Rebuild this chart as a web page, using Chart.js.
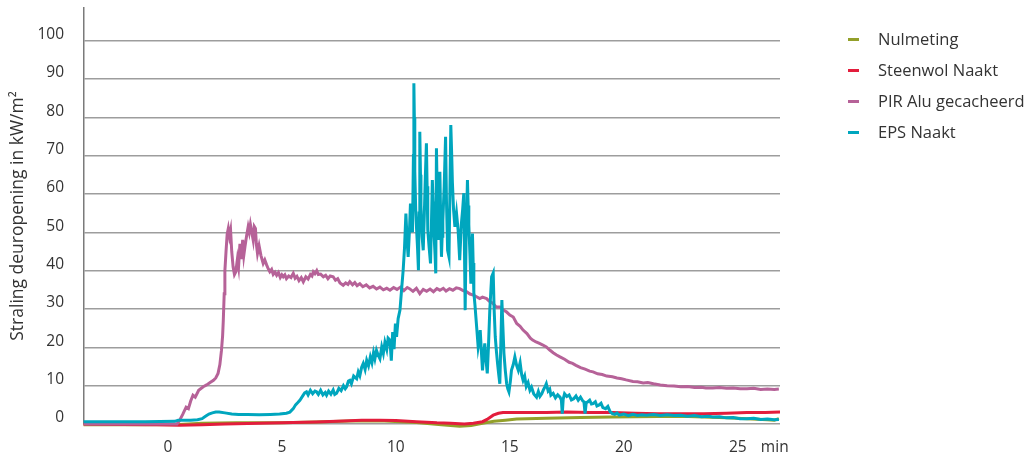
<!DOCTYPE html>
<html>
<head>
<meta charset="utf-8">
<script src="https://cdn.jsdelivr.net/npm/chart.js@4.4.1/dist/chart.umd.min.js"></script>
<style>
  html, body { margin: 0; padding: 0; background: #fff; }
  #wrap { position: relative; width: 1035px; height: 457px; }
  #legend { position: absolute; left: 848px; top: 28px; font: 16.5px "Open Sans", sans-serif; color: #333; }
  #legend .item { position: relative; height: 31px; line-height: 22px; padding-left: 30px; white-space: nowrap; }
  #legend .swatch { position: absolute; left: 0; top: 10px; width: 11px; height: 3px; }
</style>
</head>
<body>
<div id="wrap">
  <canvas id="chart" width="1035" height="457"></canvas>
  <div id="legend"></div>
</div>
<script>
// time in minutes, radiation in kW/m2 — [t, value]
const nulmeting = [
  [-3.7,-0.2],[-1,-0.2],[0.5,-0.1],[1.5,0.2],[3,0.3],[5,0.3],[6.5,0.5],[8,0.8],[9.5,0.8],
  [10.9,0.4],[12,-0.2],[12.8,-0.6],[13.3,-0.4],[13.8,0.2],[14.3,0.7],[14.8,1.0],[15.3,1.3],
  [16.6,1.5],[18.1,1.7],[19.5,1.8],[20.5,1.9],[22.5,2.0],[23.5,1.8],[24.5,1.6],[25.4,1.4],
  [26.3,1.1],[26.6,1.0],[26.8,1.4]
];

const steenwolNaakt = [
  [-3.7,0.0],[-2,-0.1],[-0.5,-0.2],[0.5,-0.3],[1.5,-0.2],[2.5,0],[3.5,0.1],[5,0.3],[6.5,0.5],
  [7.7,0.8],[8.5,1.0],[9.3,1.0],[10,0.9],[10.9,0.6],[11.8,0.3],[12.4,0.2],[13.0,0.0],[13.4,0.2],
  [13.8,0.6],[14.0,1.2],[14.27,2.3],[14.5,2.8],[14.7,3.0],[15.5,3.0],[16.6,3.0],[17.5,3.1],
  [18.5,3.0],[19.5,3.0],[20.5,2.8],[21.5,2.7],[22.5,2.7],[23.5,2.7],[24.5,2.8],[25.4,3.0],
  [26.2,3.0],[26.85,3.1]
];

const pirAlu = [
  [-3.7,0],[0.4,0],[0.5,0.8],[0.65,2.5],[0.8,4.4],[0.9,4.0],[1.0,6.0],[1.1,7.5],[1.2,7.0],
  [1.35,8.8],[1.55,9.7],[1.7,10.2],[1.85,10.8],[2.0,11.4],[2.1,12.0],[2.2,13.2],[2.28,15.5],
  [2.35,19.2],[2.4,23],[2.43,27],[2.47,34],[2.5,40],[2.55,45],[2.6,49.5],[2.65,51],[2.7,49],
  [2.75,50.5],[2.8,45],[2.86,41],[2.92,39],[2.98,39.7],[3.05,43],[3.1,41],[3.16,47],[3.22,43],
  [3.28,48],[3.33,44],[3.38,46.2],[3.45,49],[3.52,51.4],[3.57,50],[3.62,52],[3.68,50],[3.74,48],
  [3.79,51.5],[3.84,51],[3.88,47],[3.93,44.5],[4.0,46.5],[4.08,44],[4.18,41.9],[4.25,42.8],
  [4.33,41.5],[4.4,40.5],[4.47,39.7],[4.55,40.3],[4.62,39],[4.7,39.6],[4.77,38.8],[4.85,39.5],
  [4.93,38.2],[5.0,38.9],[5.06,38.4],[5.13,38.9],[5.2,37.9],[5.3,38.6],[5.4,38.2],[5.5,39.3],
  [5.58,38],[5.66,38.5],[5.75,37.4],[5.85,38.2],[5.94,37.1],[6.05,38.4],[6.15,37.8],[6.25,39],
  [6.32,38.6],[6.38,39.7],[6.45,39.2],[6.53,40],[6.6,39],[6.7,39.1],[6.82,38.4],[6.92,38.8],
  [7.02,37.9],[7.12,38.6],[7.25,38.4],[7.35,37.5],[7.45,37.9],[7.55,36.8],[7.69,36.2],[7.8,36.8],
  [7.9,36.4],[7.98,37.1],[8.1,36.3],[8.2,36.9],[8.3,36.1],[8.42,36.6],[8.55,35.8],[8.7,36.3],
  [8.85,35.5],[9.0,35.9],[9.15,35.2],[9.3,35.7],[9.45,35.0],[9.6,35.4],[9.74,34.9],[9.9,35.6],
  [10.05,35.1],[10.2,35.7],[10.35,34.8],[10.5,35.6],[10.6,35.3],[10.75,34.6],[10.9,35.4],
  [11.05,34.0],[11.2,35.1],[11.35,34.6],[11.5,35.2],[11.65,34.5],[11.8,35.3],[11.93,34.9],
  [12.08,35.4],[12.2,34.7],[12.35,35.3],[12.5,34.9],[12.65,35.5],[12.8,35.3],[12.95,34.8],
  [13.1,34.5],[13.25,33.9],[13.4,33.6],[13.54,33.2],[13.68,32.7],[13.8,33.1],[13.98,32.7],
  [14.1,32.0],[14.25,31.5],[14.4,30.5],[14.56,30.5],[14.7,29.8],[14.86,29.2],[15.0,28.4],
  [15.15,27.9],[15.3,26.2],[15.45,25.5],[15.58,24.5],[15.75,23.6],[15.9,22.4],[16.0,21.9],
  [16.15,21.4],[16.3,21.0],[16.45,20.6],[16.6,20.1],[16.75,19.3],[16.9,18.6],[17.05,18.0],
  [17.2,17.5],[17.4,16.9],[17.6,16.1],[17.75,15.8],[17.9,15.3],[18.1,14.7],[18.3,14.3],
  [18.5,13.8],[18.65,13.6],[18.85,13.1],[19.05,12.9],[19.25,12.5],[19.5,12.3],[19.7,12.0],
  [19.9,11.8],[20.1,11.5],[20.4,11.1],[20.6,11.0],[20.85,10.7],[21.05,10.8],[21.3,10.5],
  [21.6,10.2],[21.9,10.0],[22.2,9.9],[22.5,9.7],[22.8,9.8],[23.1,9.5],[23.4,9.6],[23.6,9.4],
  [23.9,9.4],[24.2,9.5],[24.5,9.3],[24.8,9.4],[25.1,9.2],[25.4,9.2],[25.7,9.3],[26.0,9.0],
  [26.3,9.1],[26.6,9.0],[26.8,9.1]
];

const epsNaakt = [
  [-3.7,0.6],[-1,0.6],[0.3,0.7],[0.45,1.0],[0.6,1.0],[1.0,1.0],[1.3,1.1],[1.5,1.4],[1.65,2.0],
  [1.8,2.6],[1.95,2.9],[2.1,3.1],[2.25,3.1],[2.5,2.9],[2.8,2.6],[3.1,2.5],[3.5,2.5],[4.0,2.4],
  [4.5,2.5],[4.9,2.6],[5.2,2.8],[5.35,3.1],[5.5,4.0],[5.6,5.0],[5.7,5.6],[5.79,6.2],[5.9,7.2],
  [6.0,8.1],[6.08,8.4],[6.15,7.6],[6.25,8.8],[6.35,7.9],[6.45,8.6],[6.52,8.4],[6.6,7.7],[6.7,8.8],
  [6.8,7.6],[6.9,8.2],[6.96,7.5],[7.05,8.6],[7.15,7.8],[7.25,8.9],[7.32,7.7],[7.4,8.0],[7.5,9.3],
  [7.6,8.7],[7.7,10.0],[7.78,9.2],[7.84,9.7],[7.92,11.2],[7.98,11.4],[8.05,10.5],[8.15,12.5],
  [8.28,11.8],[8.35,13.6],[8.42,12.6],[8.5,14.8],[8.57,15.8],[8.65,14.2],[8.72,16.6],[8.8,15.2],
  [8.88,17.5],[8.95,16.0],[9.02,18.6],[9.08,17.0],[9.15,19.2],[9.22,18.0],[9.3,17.0],[9.38,20.1],
  [9.45,18.4],[9.52,21.3],[9.6,19.5],[9.66,22.4],[9.74,21.9],[9.8,16.5],[9.86,24],[9.92,19.5],
  [9.98,26.2],[10.03,22.7],[10.1,27.5],[10.18,29.7],[10.25,35],[10.32,40.1],[10.38,46],
  [10.44,54.9],[10.5,47],[10.54,43.6],[10.6,51],[10.64,57.5],[10.68,52],[10.73,50],[10.77,70],
  [10.79,88.9],[10.81,80],[10.83,66],[10.87,56],[10.91,50.6],[10.95,46],[10.99,40.1],[11.02,55],
  [11.05,76.2],[11.08,65],[11.1,57],[11.15,49],[11.2,45.3],[11.25,55],[11.29,64],[11.34,73.2],
  [11.37,62],[11.4,50.6],[11.46,46],[11.52,41.9],[11.56,52],[11.6,63.6],[11.63,58],[11.67,50],
  [11.72,44],[11.75,39.3],[11.78,71.9],[11.82,58],[11.87,48],[11.9,55],[11.93,65.8],[11.97,52],
  [12.0,43.6],[12.03,49],[12.06,53],[12.12,62],[12.18,74.9],[12.22,58],[12.27,45.3],[12.33,43.6],
  [12.37,60],[12.41,78],[12.45,70],[12.48,63],[12.53,56],[12.59,51.4],[12.66,55],[12.73,50.6],
  [12.8,42.7],[12.87,52],[12.93,56],[12.98,60.2],[13.01,45],[13.04,29.7],[13.08,48],[13.14,63.6],
  [13.17,57],[13.2,52],[13.25,44],[13.29,36.6],[13.33,45],[13.36,49.7],[13.39,42],[13.42,34.3],
  [13.47,31],[13.51,27.9],[13.56,24],[13.61,20.1],[13.66,22],[13.7,24.5],[13.75,19],[13.8,14],
  [13.85,18],[13.9,21],[13.95,17],[14.01,13.2],[14.06,20],[14.12,29.7],[14.16,34],[14.2,38.4],
  [14.27,39.4],[14.31,30],[14.36,22.7],[14.41,19],[14.46,15.8],[14.51,13],[14.56,10.5],[14.6,20],
  [14.65,32.3],[14.69,26],[14.74,18.5],[14.8,14],[14.86,10.5],[14.91,9.2],[14.96,8.4],[15.02,11],
  [15.07,14],[15.15,15.5],[15.22,17.5],[15.3,15.2],[15.37,14],[15.45,16],[15.52,12.8],[15.58,11.4],
  [15.65,12.5],[15.72,9.8],[15.8,10.8],[15.88,8.8],[15.95,9.6],[16.05,7.8],[16.17,7.0],[16.25,8.5],
  [16.32,7.2],[16.4,7.9],[16.48,9.0],[16.55,9.8],[16.6,10.5],[16.68,8.6],[16.75,9.1],[16.8,7.5],
  [16.9,8.0],[17.0,6.8],[17.1,7.6],[17.2,7.0],[17.26,6.2],[17.3,2.7],[17.34,6.5],[17.4,7.9],
  [17.5,7.2],[17.6,7.6],[17.7,6.3],[17.8,6.6],[17.9,7.3],[18.0,6.2],[18.1,7.0],[18.2,6.0],
  [18.25,5.8],[18.3,2.7],[18.35,5.6],[18.4,5.7],[18.5,6.2],[18.58,5.2],[18.65,5.3],[18.75,5.8],
  [18.82,4.7],[18.9,4.9],[19.0,5.4],[19.08,4.3],[19.2,4.0],[19.3,4.6],[19.4,3.2],[19.5,2.7],
  [19.6,2.5],[19.7,2.9],[19.8,2.3],[20.0,2.6],[20.2,2.2],[20.4,2.5],[20.6,2.2],[20.8,2.4],
  [21.0,2.3],[21.3,2.5],[21.6,2.2],[21.9,2.4],[22.2,2.2],[22.5,2.3],[22.8,2.0],[23.1,2.2],
  [23.4,1.9],[23.7,2.0],[23.9,1.8],[24.2,1.9],[24.5,1.6],[24.8,1.7],[25.1,1.4],[25.4,1.4],
  [25.7,1.5],[26.0,1.2],[26.3,1.3],[26.6,1.1],[26.8,1.2]
];

const seriesNames = ['Nulmeting', 'Steenwol Naakt', 'PIR Alu gecacheerd', 'EPS Naakt'];
const seriesColors = ['#93a02a', '#e31d3c', '#b66298', '#00a6be'];
const xTicks = [0, 5, 10, 15, 20, 25];
const yTicks = [0, 10, 20, 30, 40, 50, 60, 70, 80, 90, 100];
const xUnitLabel = 'min';
const xUnitPos = 26.62;
const yTitle = 'Straling deuropening in kW/m\u00B2';

const allSeries = [nulmeting, steenwolNaakt, pirAlu, epsNaakt];

Chart.defaults.font.family = '"Open Sans", sans-serif';
Chart.defaults.font.size = 15.5;
Chart.defaults.color = '#333';

const datasets = allSeries.map((s, i) => ({
  label: seriesNames[i],
  data: s.map(p => ({ x: p[0], y: p[1] })),
  borderColor: seriesColors[i],
  backgroundColor: seriesColors[i],
  borderWidth: 3,
  pointRadius: 0,
  tension: 0,
  clip: false,
  order: allSeries.length - 1 - i   // EPS on top
}));

// no extra margins for overflowing tick labels, keep the plot box fixed
function noPad(axis) {
  axis.paddingTop = 0;
  axis.paddingBottom = 0;
  axis.paddingLeft = 0;
  axis.paddingRight = 0;
}

new Chart(document.getElementById('chart').getContext('2d'), {
  type: 'line',
  data: { datasets: datasets },
  options: {
    responsive: false,
    animation: false,
    layout: { padding: { left: 0, top: 8, right: 255, bottom: 0 } },
    plugins: { legend: { display: false }, tooltip: { enabled: false } },
    scales: {
      x: {
        type: 'linear',
        min: -3.68,
        max: 26.85,
        grid: { display: false },
        border: { display: false },
        afterBuildTicks: axis => {
          axis.ticks = xTicks.concat([xUnitPos]).map(v => ({ value: v }));
        },
        afterFit: axis => { axis.height = 33; noPad(axis); },
        ticks: {
          padding: 6,
          maxRotation: 0,
          autoSkip: false,
          callback: v => (v === xUnitPos ? xUnitLabel : String(v))
        }
      },
      y: {
        min: 0,
        max: 108.5,
        afterBuildTicks: axis => {
          axis.ticks = yTicks.map(v => ({ value: v }));
        },
        afterFit: axis => { axis.width = 84; noPad(axis); },
        grid: { color: '#9d9d9d', lineWidth: 1.5, drawTicks: false },
        border: { display: true, color: '#7a7a7a', width: 1.5 },
        ticks: { padding: 20, labelOffset: -6 },
        title: {
          display: true,
          text: yTitle,
          font: { size: 17.5 },
          color: '#333',
          padding: { top: 8, bottom: 0 }
        }
      }
    }
  }
});

// legend on the right
const legend = document.getElementById('legend');
seriesNames.forEach((name, i) => {
  const item = document.createElement('div');
  item.className = 'item';
  item.innerHTML = '<span class="swatch" style="background:' + seriesColors[i] + '"></span>' + name;
  legend.appendChild(item);
});
</script>
</body>
</html>
